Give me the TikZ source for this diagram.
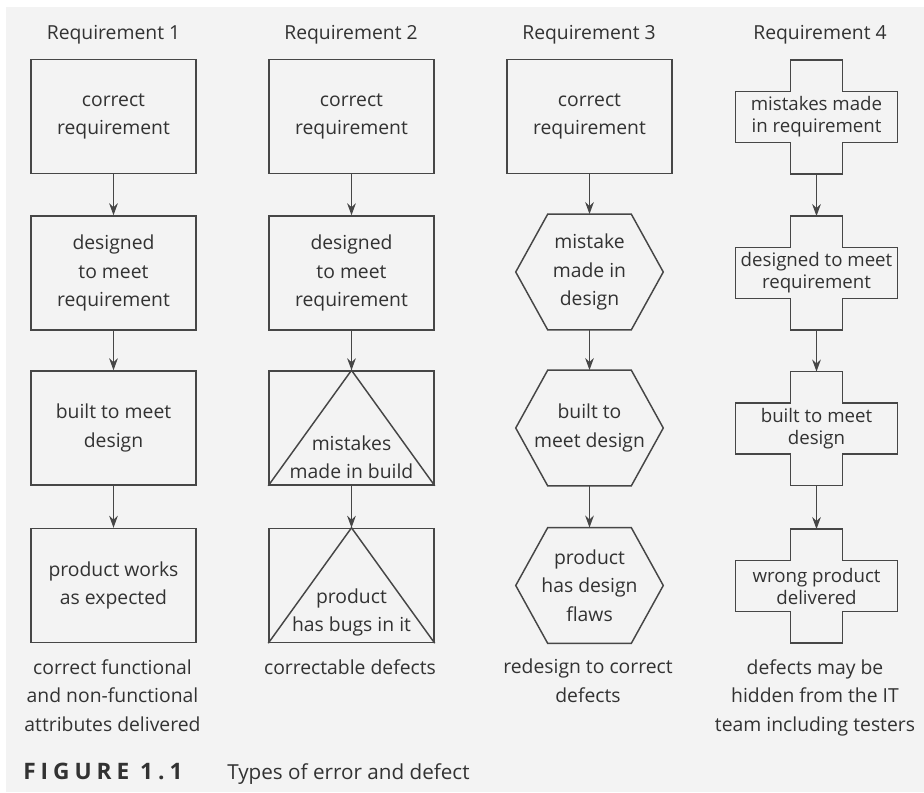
\documentclass[tikz,border=0pt]{standalone}
\usepackage{fontspec}
\setmainfont{Open Sans}
\usepackage{xcolor}
\usepackage{tikz}
\usetikzlibrary{arrows.meta}
\definecolor{inkGray}{RGB}{50, 50, 50}
\definecolor{lineGray}{RGB}{70, 70, 70}
\definecolor{paperGray}{RGB}{243, 243, 243}
\tikzset{
    txt/.style={align=center, inner sep=0pt, text=inkGray, font=\fontsize{14.5}{21.4}\selectfont},
    reqbox/.style={txt, draw=lineGray, line width=1.1pt, minimum width=123.75pt, minimum height=85.5pt},
    hexshape/.style={txt, minimum width=110.25pt, minimum height=86.5pt},
    crossshape/.style={txt, font=\fontsize{14}{16.5}\selectfont, minimum width=120.75pt, minimum height=85pt},
    outline/.style={draw=lineGray, line width=1.1pt, line join=miter},
    flow/.style={->, draw=lineGray, line width=1.1pt}
}

\begin{document}
\begin{tikzpicture}[x=0.75pt, y=-0.75pt, >={Stealth[length=9pt, width=6.5pt]}]
    \fill[white] (0,0) rectangle (924,792);
    \fill[paperGray] (6,7) rectangle (924,792);
    \useasboundingbox (0,0) rectangle (924,792);

    % headings
    \node[txt, anchor=base] (req1) at (113.5,40) {Requirement 1};
    \node[txt, anchor=base] (req2) at (351,40) {Requirement 2};
    \node[txt, anchor=base] (req3) at (589,40) {Requirement 3};
    \node[txt, anchor=base] (req4) at (820,40) {Requirement 4};

    % requirement 1
    \node[reqbox] (a1) at (113.5,116.5) {correct\\requirement};
    \node[reqbox] (a2) at (113.5,273) {designed\\to meet\\requirement};
    \node[reqbox] (a3) at (113.5,428) {built to meet\\design};
    \node[reqbox] (a4) at (113.5,585.5) {product works\\as expected};

    % requirement 2
    \node[reqbox] (b1) at (351.5,116.5) {correct\\requirement};
    \node[reqbox] (b2) at (351.5,273) {designed\\to meet\\requirement};
    \node[reqbox] (b3) at (351.5,428) {};
    \node[reqbox] (b4) at (351.5,585.5) {};
    \draw[outline] (b3.south west) -- (b3.north) -- (b3.south east);
    \draw[outline] (b4.south west) -- (b4.north) -- (b4.south east);
    \node[txt, anchor=south] (b3t) at ([yshift=5pt]b3.south) {mistakes\\made in build};
    \node[txt, anchor=south] (b4t) at ([yshift=5pt]b4.south) {product\\has bugs in it};

    % requirement 3
    \node[reqbox] (c1) at (589.5,116.5) {correct\\requirement};
    \node[hexshape] (c2) at (589.5,272) {mistake\\made in\\design};
    \node[hexshape] (c3) at (589.5,428) {built to\\meet design};
    \node[hexshape] (c4) at (589.5,585.5) {product\\has design\\flaws};
    \foreach \n in {c2,c3,c4}
        \draw[outline] ([xshift=24pt]\n.north west) -- ([xshift=-24pt]\n.north east) -- (\n.east)
            -- ([xshift=-24pt]\n.south east) -- ([xshift=24pt]\n.south west) -- (\n.west) -- cycle;

    % requirement 4
    \node[crossshape] (d1) at (816.5,117) {mistakes made\\in requirement};
    \node[crossshape] (d2) at (816.5,273) {designed to meet\\requirement};
    \node[crossshape] (d3) at (816.5,428.5) {built to meet\\design};
    \node[crossshape] (d4) at (816.5,586) {wrong product\\delivered};
    \foreach \n in {d1,d2,d3,d4}
        \draw[outline] ([xshift=-19.5pt]\n.north) -- ([xshift=19.5pt]\n.north)
            -- ([xshift=19.5pt,yshift=19pt]\n.center) -- ([yshift=19pt]\n.east)
            -- ([yshift=-19pt]\n.east) -- ([xshift=19.5pt,yshift=-19pt]\n.center)
            -- ([xshift=19.5pt]\n.south) -- ([xshift=-19.5pt]\n.south)
            -- ([xshift=-19.5pt,yshift=-19pt]\n.center) -- ([yshift=-19pt]\n.west)
            -- ([yshift=19pt]\n.west) -- ([xshift=-19.5pt,yshift=19pt]\n.center) -- cycle;

    % arrows
    \draw[flow] (a1) -- (a2);
    \draw[flow] (a2) -- (a3);
    \draw[flow] (a3) -- (a4);
    \draw[flow] (b1) -- (b2);
    \draw[flow] (b2) -- (b3.north);
    \draw[flow] (b3.south) -- (b4.north);
    \draw[flow] (c1) -- (c2);
    \draw[flow] (c2) -- (c3);
    \draw[flow] (c3) -- (c4);
    \draw[flow] (d1) -- (d2);
    \draw[flow] (d2) -- (d3);
    \draw[flow] (d3) -- (d4);

    % outcomes
    \node[txt, anchor=north] (res1) at (112.5,659) {correct functional\\and non-functional\\attributes delivered};
    \node[txt, anchor=north] (res2) at (350,659) {correctable defects};
    \node[txt, anchor=north] (res3) at (588,659) {redesign to correct\\defects};
    \node[txt, anchor=north] (res4) at (815,659) {defects may be\\hidden from the IT\\team including testers};

    % caption
    \node[anchor=base west, inner sep=0pt, text=inkGray, font=\fontsize{17}{20}\selectfont\bfseries\addfontfeatures{LetterSpace=22}] (figNum) at (23,779) {FIGURE 1.1};
    \node[anchor=base west, inner sep=0pt, text=inkGray, font=\fontsize{15.5}{20}\selectfont] (figTitle) at (227,779) {Types of error and defect};
\end{tikzpicture}
\end{document}
